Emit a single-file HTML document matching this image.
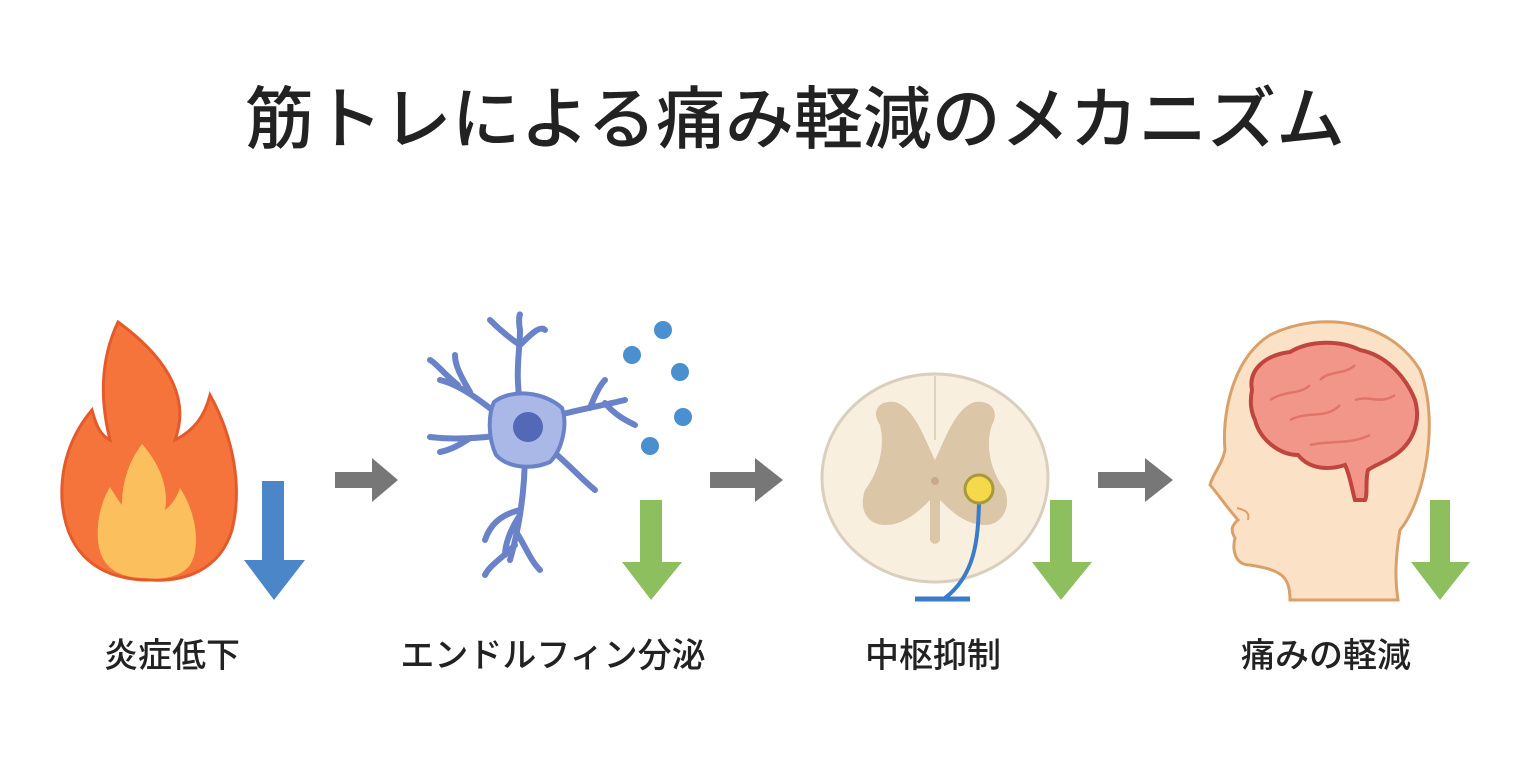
<!DOCTYPE html>
<html><head><meta charset="utf-8"><style>
body{margin:0;background:#fff;width:1536px;height:757px;overflow:hidden}
svg text{font-family:"Liberation Sans","Noto Sans CJK JP",sans-serif;fill:#222}
</style></head><body>
<svg width="1536" height="757" viewBox="0 0 1536 757" xmlns="http://www.w3.org/2000/svg">
<text x="795" y="143" font-size="68" font-weight="500" text-anchor="middle" textLength="1100" lengthAdjust="spacingAndGlyphs">筋トレによる痛み軽減のメカニズム</text>
<!-- flame -->
<path d="M118 322 C170 360 190 400 175 440 C195 430 205 415 210 395 C235 440 242 490 232 530 C220 570 185 582 150 580 C100 580 66 555 62 500 C60 460 75 430 92 410 C96 425 100 435 110 440 C100 400 100 360 118 322 Z" fill="#f4743b" stroke="#e55a2b" stroke-width="3"/>
<path d="M142 444 C165 470 168 495 165 510 C172 505 178 495 180 488 C198 515 200 550 190 565 C180 578 160 580 145 578 C115 578 100 565 98 540 C96 515 105 495 110 487 C115 495 118 500 122 505 C122 480 130 460 142 444 Z" fill="#fbbf5e"/>
<path d="M262 481 H284 V560 H305 L274 600 L244 560 H262 Z" fill="#4a86c8"/>
<path d="M335 472 H372 V458 L398 480 L372 502 V488 H335 Z" fill="#777"/>
<path d="M710 472 H755 V458 L783 480 L755 502 V488 H710 Z" fill="#777"/>
<path d="M1098 472 H1145 V458 L1173 480 L1145 502 V488 H1098 Z" fill="#777"/>
<!-- neuron -->
<g stroke="#6a82c8" stroke-width="6" fill="none" stroke-linecap="round">
<path d="M520 405 C515 370 520 350 520 330 M520 345 C505 335 495 325 490 320 M520 345 C530 335 540 325 545 330 M520 330 C518 320 520 312 520 315"/>
<path d="M505 420 C480 400 460 385 440 380 M470 392 C460 375 455 365 455 355 M458 385 C445 375 435 362 430 360"/>
<path d="M505 435 C480 438 455 440 430 437 M470 438 C460 445 450 450 440 452"/>
<path d="M548 418 C575 410 605 405 625 400 M590 408 C595 395 600 385 605 380 M605 403 C615 415 625 420 635 425"/>
<path d="M545 445 C565 460 580 478 595 490"/>
<path d="M525 450 C525 490 520 525 510 560 M520 510 C500 515 490 525 485 540 M520 515 C510 530 505 545 505 555 M515 530 C525 545 530 560 540 570 M515 545 C500 560 490 565 485 575"/>
</g>
<path d="M494 402 C512 388 545 392 562 408 C568 425 562 450 550 462 C532 470 508 468 496 455 C488 438 488 415 494 402 Z" fill="#aab8e8" stroke="#6a82c8" stroke-width="4"/>
<circle cx="528" cy="427" r="15" fill="#5468b8"/>
<g fill="#4a8fd0"><circle cx="663" cy="330" r="9"/><circle cx="632" cy="355" r="9"/><circle cx="680" cy="372" r="9"/><circle cx="683" cy="417" r="9"/><circle cx="650" cy="446" r="9"/></g>
<g fill="#8ebf5e">
<path d="M640 500 H662 V562 H682 L651 600 L622 562 H640 Z"/>
<path d="M1050 500 H1072 V562 H1092 L1061 600 L1032 562 H1050 Z"/>
<path d="M1430 500 H1450 V562 H1470 L1440 600 L1411 562 H1430 Z"/>
</g>
<!-- spinal cord -->
<ellipse cx="935" cy="478" rx="113" ry="104" fill="#f8efdf" stroke="#d9cfbd" stroke-width="3"/>
<line x1="935" y1="376" x2="935" y2="440" stroke="#ddd3c0" stroke-width="2"/>
<path d="M880 425 C870 410 880 400 895 402 C915 408 925 440 935 460 C945 440 955 408 975 402 C990 400 1000 410 992 425 C985 445 990 470 1005 490 C1012 510 1000 525 985 525 C965 525 950 510 940 500 L940 540 C938 545 932 545 930 540 L930 500 C920 510 905 525 885 525 C868 525 858 510 865 490 C880 470 885 445 880 425 Z" fill="#dcc6a8"/>
<circle cx="935" cy="481" r="4" fill="#c9a98a"/>
<path d="M979 503 C978 540 975 575 945 598" stroke="#3a7cc8" stroke-width="4" fill="none"/>
<line x1="915" y1="599" x2="970" y2="599" stroke="#3a7cc8" stroke-width="5"/>
<circle cx="979" cy="489" r="14" fill="#f5d94a" stroke="#a89a3a" stroke-width="3"/>
<!-- head -->
<path d="M1290 600 C1290 575 1280 570 1250 565 C1235 565 1232 550 1235 538 C1230 530 1232 525 1238 520 C1225 505 1215 490 1210 485 C1212 475 1222 465 1225 450 C1222 420 1230 360 1270 335 C1320 310 1390 320 1420 370 C1440 420 1425 500 1400 530 C1395 560 1395 580 1398 600 Z" fill="#fbe1c6" stroke="#d9a06a" stroke-width="3"/>
<path d="M1237 508 C1245 510 1250 512 1248 520" stroke="#d9a06a" stroke-width="2" fill="none"/>
<path d="M1252 390 C1248 370 1265 355 1290 352 C1310 340 1340 340 1360 350 C1385 355 1405 375 1415 400 C1422 425 1410 445 1395 455 C1385 462 1375 465 1368 470 C1365 480 1368 495 1365 500 L1355 500 C1352 490 1350 475 1345 465 C1330 470 1310 470 1298 455 C1280 455 1260 440 1255 420 C1250 410 1250 400 1252 390 Z" fill="#f3968a" stroke="#c0453f" stroke-width="4"/>
<g stroke="#e07468" stroke-width="2.5" fill="none">
<path d="M1270 400 C1285 390 1300 395 1310 385 M1290 420 C1310 410 1325 420 1340 405 M1320 380 C1330 370 1345 375 1355 365 M1355 400 C1370 395 1380 405 1395 395 M1310 445 C1330 440 1350 445 1370 435"/>
</g>
<g font-size="34" font-weight="500">
<text x="172" y="667" text-anchor="middle">炎症低下</text>
<text x="553" y="667" text-anchor="middle">エンドルフィン分泌</text>
<text x="933" y="667" text-anchor="middle">中枢抑制</text>
<text x="1326" y="667" text-anchor="middle">痛みの軽減</text>
</g>
</svg>
</body></html>
